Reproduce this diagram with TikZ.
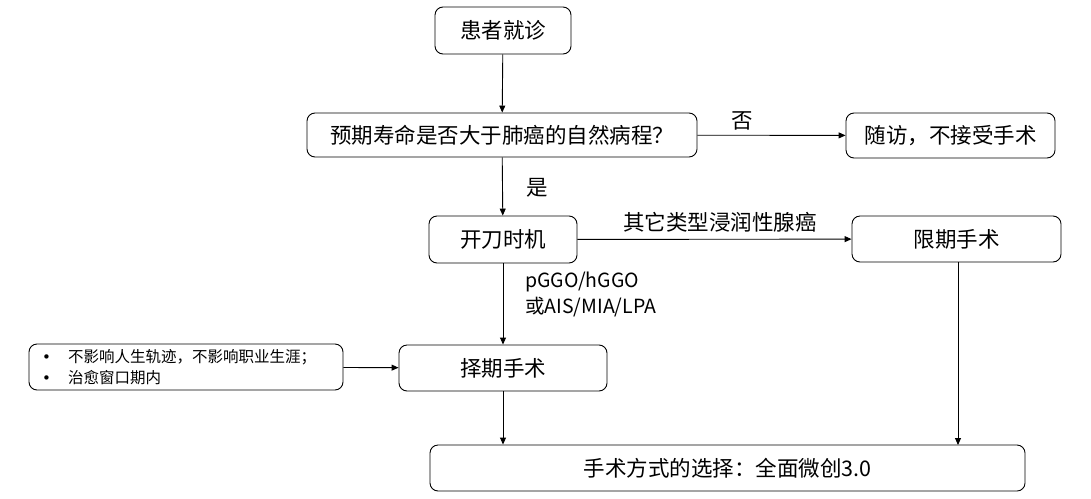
\documentclass[tikz,border=0pt]{standalone}
\usepackage{fontspec}
\setmainfont{Noto Sans CJK SC}
\newfontfamily\dvfont{DejaVu Sans}
\usetikzlibrary{arrows.meta}
\newcommand{\bul}{\makebox[26pt][l]{\dvfont\fontsize{15}{21}\selectfont•}}
\tikzset{
  box/.style={draw, line width=0.9pt, rounded corners=8pt, inner sep=0pt, font=\fontsize{21.5}{25}\selectfont},
  lbl/.style={inner sep=0pt, font=\fontsize{21.5}{25}\selectfont},
  conn/.style={line width=0.9pt, -{Triangle[length=7pt,width=6pt]}}
}
\begin{document}
\begin{tikzpicture}[x=1pt,y=-1pt]
\useasboundingbox (0,0) rectangle (1091,498);
\node[box, minimum width=136pt, minimum height=47pt] (a) at (503,30.5) {患者就诊};
\node[box, minimum width=390pt, minimum height=44pt] (b) at (502,135) {预期寿命是否大于肺癌的自然病程？};
\node[box, minimum width=209pt, minimum height=45pt] (c) at (950.5,135.5) {随访，不接受手术};
\node[box, minimum width=148pt, minimum height=47pt] (d) at (503,239.5) {开刀时机};
\node[box, minimum width=209pt, minimum height=46pt] (e) at (956.5,239) {限期手术};
\node[box, minimum width=208pt, minimum height=46pt] (f) at (503,368) {择期手术};
\node[box, minimum width=314pt, minimum height=46pt, align=left, text width=288pt, inner xsep=13pt, font=\fontsize{15.5}{21}\selectfont] (g) at (186,367) {\bul 不影响人生轨迹，不影响职业生涯；\\\bul 治愈窗口期内};
\node[box, minimum width=595pt, minimum height=46pt] (h) at (727.5,468) {手术方式的选择：全面微创3.0};
\draw[conn] (a) -- (b);
\draw[conn] (b) -- node[lbl, pos=0.3, above=5pt] (no) {否} (c);
\draw[conn] (b) -- node[lbl, pos=0.52, right=24pt] (yes) {是} (d);
\draw[conn] (d) -- node[lbl, pos=0.52, above=7pt] (oth) {其它类型浸润性腺癌} (e);
\draw[conn] (d) -- (f);
\node[lbl, anchor=north west, align=left, font=\fontsize{19.5}{26}\selectfont] (ggo) at (525,272) {pGGO/hGGO\\或AIS/MIA/LPA};
\draw[conn] (g) -- (f);
\draw[conn] (f) -- (f |- h.north);
\draw[conn] (958,262) -- (958,445);
\end{tikzpicture}
\end{document}
